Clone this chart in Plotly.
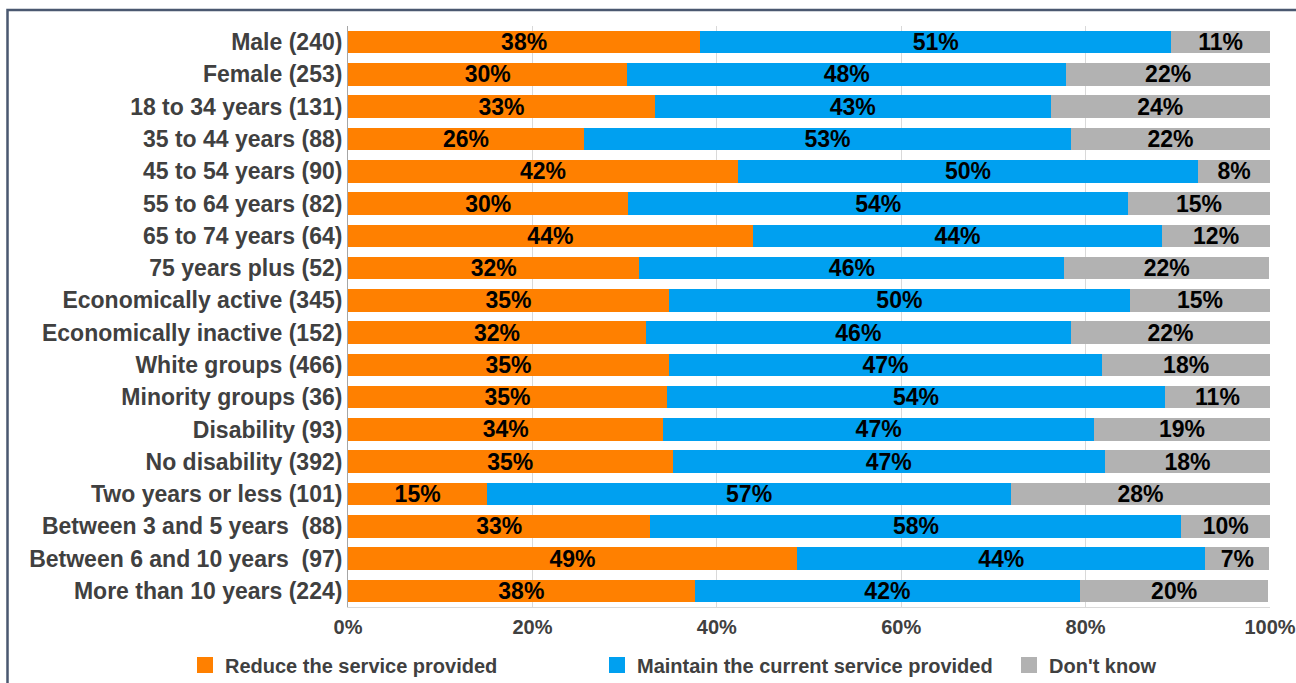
import plotly.graph_objects as go

categories = [
    "Male (240)", "Female (253)", "18 to 34 years (131)", "35 to 44 years (88)",
    "45 to 54 years (90)", "55 to 64 years (82)", "65 to 74 years (64)",
    "75 years plus (52)", "Economically active (345)", "Economically inactive (152)",
    "White groups (466)", "Minority groups (36)", "Disability (93)",
    "No disability (392)", "Two years or less (101)", "Between 3 and 5 years \u00a0(88)",
    "Between 6 and 10 years \u00a0(97)", "More than 10 years (224)",
]

reduce_vals = [38.2, 30.3, 33.3, 25.6, 42.3, 30.4, 43.9, 31.6, 34.8, 32.3,
               34.8, 34.6, 34.2, 35.2, 15.1, 32.8, 48.7, 37.6]
maintain_vals = [51.1, 47.6, 42.9, 52.8, 49.9, 54.2, 44.4, 46.1, 50.0, 46.1,
                 47.0, 54.0, 46.7, 46.9, 56.8, 57.6, 44.3, 41.8]
dontknow_vals = [10.7, 22.1, 23.8, 21.6, 7.8, 15.4, 11.7, 22.2, 15.2, 21.6,
                 18.2, 11.4, 19.1, 17.9, 28.1, 9.6, 6.9, 20.4]

series_names = ["Reduce the service provided", "Maintain the current service provided", "Don't know"]
series_values = [reduce_vals, maintain_vals, dontknow_vals]
series_colors = ["#FF8000", "#00A0F0", "#B2B2B2"]
tick_values = [0, 20, 40, 60, 80, 100]
tick_labels = ["0%", "20%", "40%", "60%", "80%", "100%"]

FONT = "Arial, 'Liberation Sans', sans-serif"

fig = go.Figure()
for name, vals, color in zip(series_names, series_values, series_colors):
    fig.add_trace(go.Bar(
        y=categories, x=vals, name=name, orientation="h",
        marker=dict(color=color, line=dict(width=0)),
        texttemplate="<b>%{x:.0f}%</b>", textposition="inside",
        insidetextanchor="middle", textangle=0, constraintext="none",
        textfont=dict(family=FONT, size=23, color="#000000"),
        width=0.7, hoverinfo="skip", showlegend=False,
    ))

# legend-only entries with larger square swatches
for i, (name, color) in enumerate(zip(series_names, series_colors)):
    fig.add_trace(go.Scatter(
        x=[None], y=[None], mode="markers", name="<b>" + name + "</b>",
        marker=dict(symbol="square", size=25, color=color),
        showlegend=True, hoverinfo="skip",
        legendwidth=(110 if i == 2 else 367),
    ))

W, H = 1296, 683
ml, mr, mt, mb = 348, 26, 26, 76
pw, ph = W - ml - mr, H - mt - mb

def px_x(px):
    return (px - ml) / pw

def px_y(py):
    return (H - mb - py) / ph

fig.update_layout(
    barmode="stack",
    width=W, height=H, autosize=False,
    margin=dict(l=ml, r=mr, t=mt, b=mb, pad=0, autoexpand=False),
    paper_bgcolor="white", plot_bgcolor="white",
    font=dict(family=FONT, color="#404040"),
    showlegend=True,
    legend=dict(
        orientation="h", x=px_x(185), xanchor="left", y=px_y(665), yanchor="middle",
        font=dict(family=FONT, size=20, color="#404040"),
        entrywidthmode="pixels", traceorder="normal", itemsizing="trace",
        bgcolor="rgba(0,0,0,0)", borderwidth=0,
    ),
    xaxis=dict(
        range=[0, 100], tickvals=tick_values, automargin=False,
        ticktext=["<b>" + t + "</b>" for t in tick_labels],
        tickfont=dict(family=FONT, size=20, color="#404040"),
        showgrid=True, gridcolor="#D9D9D9", gridwidth=1,
        zeroline=False, showline=True, linecolor="#D9D9D9", linewidth=1,
        ticks="", fixedrange=True, ticklabelstandoff=2,
    ),
    yaxis=dict(
        autorange="reversed", type="category", automargin=False,
        tickmode="array", tickvals=categories,
        ticktext=["<b>" + c + "</b>" for c in categories],
        tickfont=dict(family=FONT, size=23, color="#404040"),
        showline=True, linecolor="#A6A6A6", linewidth=1,
        showgrid=False, ticks="", ticklabelstandoff=0, fixedrange=True,
    ),
    shapes=[dict(
        type="rect", xref="paper", yref="paper",
        x0=px_x(7.5), x1=px_x(1330), y0=px_y(720), y1=px_y(10),
        line=dict(color="#4A5870", width=2.5), fillcolor="rgba(0,0,0,0)", layer="above",
    )],
)

fig.write_html(
    "out.html",
    config={"displayModeBar": False},
    post_script="document.body.style.margin='0';document.body.style.overflow='hidden';",
)
